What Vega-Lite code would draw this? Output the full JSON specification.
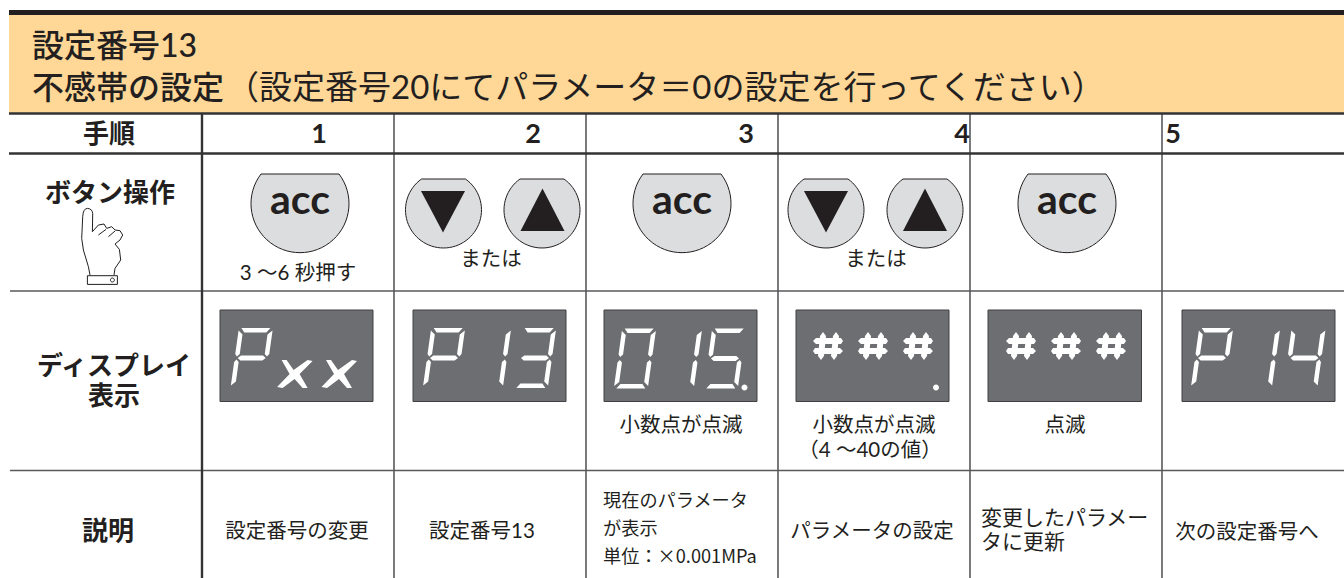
{
"$schema":"https://vega.github.io/schema/vega-lite/v6.json",
"width":1344,"height":578,"padding":0,
"autosize":{"type":"none"},
"background":"#ffffff",
"config":{"view":{"stroke":null},"text":{"font":"Lato, Noto Sans CJK JP"}},
"datasets":{
"fills":[{"part":"bar","x":9,"x2":1344,"y":10,"y2":15},{"part":"band","x":9,"x2":1344,"y":15,"y2":113}],
"screens":[{"x":220,"x2":373,"y":310,"y2":401.5},{"x":413,"x2":566,"y":310,"y2":401.5},{"x":604,"x2":757,"y":310,"y2":401.5},{"x":796,"x2":949,"y":310,"y2":401.5},{"x":988,"x2":1141.5,"y":310,"y2":401.5},{"x":1182,"x2":1335,"y":310,"y2":401.5}],
"thin":[{"x":394,"x2":394,"y":113,"y2":578},{"x":586,"x2":586,"y":113,"y2":578},{"x":778,"x2":778,"y":113,"y2":578},{"x":970,"x2":970,"y":113,"y2":578},{"x":1162,"x2":1162,"y":113,"y2":578},{"x":10,"x2":1344,"y":291,"y2":291},{"x":10,"x2":1344,"y":470.5,"y2":470.5}],
"thick":[{"x":9,"x2":1344,"y":113.5,"y2":113.5},{"x":9,"x2":1344,"y":153.5,"y2":153.5},{"x":202,"x2":202,"y":113,"y2":578}],
"keys":[{"k":"acc","x":300,"y":204.5},{"k":"acc","x":682,"y":204.5},{"k":"acc","x":1067,"y":204.5},{"k":"arrow","x":443.5,"y":210.5},{"k":"arrow","x":542,"y":210.5},{"k":"arrow","x":826,"y":210.5},{"k":"arrow","x":925,"y":210.5}],
"tri":[{"k":"down","x":443,"y":211.5},{"k":"up","x":542.5,"y":210},{"k":"down","x":826,"y":211.5},{"k":"up","x":925,"y":210}],
"hand":[{"k":"hand","x":101.7,"y":246.7}],
"seg":[{"k":"P","x":251.7,"y":358},{"k":"X","x":294.6,"y":374},{"k":"X","x":339,"y":374},
{"k":"P","x":444,"y":358},{"k":"1","x":490,"y":358},{"k":"3","x":535,"y":358},
{"k":"0","x":635,"y":358.5},{"k":"1","x":681,"y":358.5},{"k":"5","x":725,"y":358.5},{"k":"dot","x":744.5,"y":387.5},
{"k":"H","x":828,"y":346},{"k":"H","x":873,"y":346},{"k":"H","x":918,"y":346},{"k":"dot","x":936,"y":387.5},
{"k":"H","x":1021,"y":346},{"k":"H","x":1066,"y":346},{"k":"H","x":1111,"y":346},
{"k":"P","x":1212,"y":358},{"k":"1","x":1259,"y":358},{"k":"4","x":1304.5,"y":358}],
"acc":[{"t":"acc","x":300,"y":202},{"t":"acc","x":682,"y":202},{"t":"acc","x":1067,"y":202}],
"title":[{"t":"設定番号13","x":32,"y":46.5},{"t":"不感帯の設定","x":32,"y":88.5}],
"titlereg":[{"t":"（設定番号20にてパラメータ＝0の設定を行ってください）","x":226,"y":88.5}],
"heads":[{"t":"手順","x":109,"y":135},{"t":"ボタン操作","x":110,"y":194},{"t":"ディスプレイ","x":114,"y":367},{"t":"表示","x":114,"y":397},{"t":"説明","x":108,"y":532}],
"nums":[{"t":"1","x":319,"y":135},{"t":"2","x":533,"y":135},{"t":"3","x":746,"y":135},{"t":"4","x":962,"y":135},{"t":"5","x":1173,"y":135}],
"mid":[{"t":"3 〜6 秒押す","x":298,"y":273.5},{"t":"または","x":491,"y":259.5},{"t":"または","x":876,"y":259.5},{"t":"小数点が点滅","x":681,"y":425.5},{"t":"小数点が点滅","x":874,"y":425.5},{"t":"（4 〜40の値）","x":870,"y":450.5},{"t":"点滅","x":1065,"y":425.5},{"t":"設定番号の変更","x":297,"y":531.5},{"t":"設定番号13","x":482,"y":531.5},{"t":"パラメータの設定","x":872,"y":531.5},{"t":"次の設定番号へ","x":1247,"y":532.5}],
"left21":[{"t":"変更したパラメー","x":981,"y":518.5},{"t":"タに更新","x":981,"y":542.5}],
"left18":[{"t":"現在のパラメータ","x":603,"y":501.5},{"t":"が表示","x":603,"y":529.5},{"t":"単位：×0.001MPa","x":603,"y":557.5}]
},
"encoding":{
"x":{"field":"x","type":"quantitative","axis":null,"scale":{"domain":[0,1344],"nice":false,"zero":false}},
"y":{"field":"y","type":"quantitative","axis":null,"scale":{"domain":[578,0],"nice":false,"zero":false}}
},
"resolve":{"scale":{"shape":"independent"}},
"layer":[
{"data":{"name":"fills"},"mark":{"type":"rect"},"encoding":{"x2":{"field":"x2"},"y2":{"field":"y2"},"color":{"field":"part","type":"nominal","legend":null,"scale":{"domain":["bar","band"],"range":["#231F20","#FFD796"]}}}},
{"data":{"name":"thin"},"mark":{"type":"rule","color":"#58595B","strokeWidth":1.6},"encoding":{"x2":{"field":"x2"},"y2":{"field":"y2"}}},
{"data":{"name":"thick"},"mark":{"type":"rule","color":"#333335","strokeWidth":2.4},"encoding":{"x2":{"field":"x2"},"y2":{"field":"y2"}}},
{"data":{"name":"screens"},"mark":{"type":"rect","fill":"#6D6E72","stroke":"#414042","strokeWidth":1},"encoding":{"x2":{"field":"x2"},"y2":{"field":"y2"}}},
{"data":{"name":"keys"},"mark":{"type":"point","filled":true,"size":4,"opacity":1,"fill":"#DCDDDE","stroke":"#231F20","strokeWidth":1},"encoding":{"shape":{"field":"k","type":"nominal","legend":null,"scale":{"domain":["acc","arrow"],"range":["M-39 -30.5L39 -30.5A49 49 0 1 1 -39 -30.5Z","M-22 -31.5L22 -31.5A38 38 0 1 1 -22 -31.5Z"]}}}},
{"data":{"name":"tri"},"mark":{"type":"point","filled":true,"size":4,"opacity":1,"fill":"#231F20"},"encoding":{"shape":{"field":"k","type":"nominal","legend":null,"scale":{"domain":["down","up"],"range":["M-22 -20.5L22 -20.5L0 21Z","M0 -21.5L22 21L-22 21Z"]}}}},
{"data":{"name":"hand"},"mark":{"type":"point","filled":false,"size":4,"opacity":1,"stroke":"#231F20","strokeWidth":1},"encoding":{"shape":{"field":"k","type":"nominal","legend":null,"scale":{"domain":["hand"],"range":["M-11.7 28.3L-13.3 20L-18.3 3.3L-20 -8.3L-19 -30Q-18.5 -38.3 -14.3 -38.3Q-9.5 -38 -9 -33.3L-9.3 -15L-3.3 -21.7L2.3 -22.7L5 -18.3L10 -20L13.3 -16.7L18.3 -16L21 -11.7L18.3 -6.7L13.3 -2.7L17.7 2.7L19 13.3L13.3 21.7L12.3 28.3M-3.3 -11.7L4.3 -17.3M6.7 -10L13.3 -15.7M-14.3 29L15.7 29L15.7 37.7L-14.3 37.7ZM12.7 33.3A2 2 0 1 1 8.7 33.3A2 2 0 1 1 12.7 33.3Z"]}}}},
{"data":{"name":"seg"},"mark":{"type":"point","filled":true,"size":4,"opacity":1,"fill":"#FFFFFF"},"encoding":{"shape":{"field":"k","type":"nominal","legend":null,"scale":{"domain":["P","0","1","3","4","5","X","H","dot"],"range":[
"M-10.3 -30L18.7 -30L14.6 -25.5L-7.4 -25.5ZM20.85 -27.5L17.56 -4L15.21 -1.5L13.06 -4L15.79 -23.5ZM-13.15 -27.5L-9.21 -23.5L-11.94 -4L-14.79 -1.5L-16.44 -4ZM-14 0L-10.65 -2.5L11.35 -2.5L14 0L10.65 2.5L-11.35 2.5ZM-17.56 4L-15.21 1.5L-13.06 4L-15.79 23.5L-20.85 27.5Z",
"M-10.3 -30L18.7 -30L14.6 -25.5L-7.4 -25.5ZM20.85 -27.5L17.56 -4L15.21 -1.5L13.06 -4L15.79 -23.5ZM16.44 4L14.79 1.5L11.94 4L9.21 23.5L13.15 27.5ZM-14.57 25.5L7.43 25.5L10.3 30L-18.7 30ZM-17.56 4L-15.21 1.5L-13.06 4L-15.79 23.5L-20.85 27.5ZM-13.15 -27.5L-9.21 -23.5L-11.94 -4L-14.79 -1.5L-16.44 -4Z",
"M20.85 -27.5L17.56 -4L15.21 -1.5L13.06 -4L15.79 -23.5ZM16.44 4L14.79 1.5L11.94 4L9.21 23.5L13.15 27.5Z",
"M-10.3 -30L18.7 -30L14.6 -25.5L-7.4 -25.5ZM20.85 -27.5L17.56 -4L15.21 -1.5L13.06 -4L15.79 -23.5ZM-14 0L-10.65 -2.5L11.35 -2.5L14 0L10.65 2.5L-11.35 2.5ZM16.44 4L14.79 1.5L11.94 4L9.21 23.5L13.15 27.5ZM-14.57 25.5L7.43 25.5L10.3 30L-18.7 30Z",
"M-13.15 -27.5L-9.21 -23.5L-11.94 -4L-14.79 -1.5L-16.44 -4ZM-14 0L-10.65 -2.5L11.35 -2.5L14 0L10.65 2.5L-11.35 2.5ZM20.85 -27.5L17.56 -4L15.21 -1.5L13.06 -4L15.79 -23.5ZM16.44 4L14.79 1.5L11.94 4L9.21 23.5L13.15 27.5Z",
"M-10.3 -30L18.7 -30L14.6 -25.5L-7.4 -25.5ZM-13.15 -27.5L-9.21 -23.5L-11.94 -4L-14.79 -1.5L-16.44 -4ZM-14 0L-10.65 -2.5L11.35 -2.5L14 0L10.65 2.5L-11.35 2.5ZM16.44 4L14.79 1.5L11.94 4L9.21 23.5L13.15 27.5ZM-14.57 25.5L7.43 25.5L10.3 30L-18.7 30Z",
"M-1 -4L13 -14L18 -13L5 0L13 14L8 14L0 5L-12 14L-17.5 13L-5 0L-13 -14L-8 -14Z",
"M-15 -5L-12 -8L13 -8L15 -5L13 -2L-12 -2ZM-15 5L-13 2L12 2L15 5L12 8L-13 8ZM-5 -14L-2 -10L-4 10L-7 14L-10 10L-8 -10ZM8 -14L11 -10L9 10L6 14L3 10L5 -10Z",
"M3 0A3 3 0 1 1 -3 0A3 3 0 1 1 3 0Z"]}}}},
{"data":{"name":"acc"},"mark":{"type":"text","font":"Lato","fontSize":41,"fontWeight":"bold","fill":"#231F20","baseline":"middle","align":"center"},"encoding":{"text":{"field":"t"}}},
{"data":{"name":"title"},"mark":{"type":"text","fontSize":32,"fontWeight":500,"fill":"#231F20","baseline":"middle","align":"left"},"encoding":{"text":{"field":"t"}}},
{"data":{"name":"titlereg"},"mark":{"type":"text","fontSize":33,"fontWeight":400,"fill":"#231F20","baseline":"middle","align":"left"},"encoding":{"text":{"field":"t"}}},
{"data":{"name":"heads"},"mark":{"type":"text","fontSize":26,"fontWeight":"bold","fill":"#231F20","baseline":"middle","align":"center"},"encoding":{"text":{"field":"t"}}},
{"data":{"name":"nums"},"mark":{"type":"text","fontSize":27,"fontWeight":"bold","fill":"#231F20","baseline":"middle","align":"center"},"encoding":{"text":{"field":"t"}}},
{"data":{"name":"mid"},"mark":{"type":"text","fontSize":20.5,"fontWeight":400,"fill":"#231F20","baseline":"middle","align":"center"},"encoding":{"text":{"field":"t"}}},
{"data":{"name":"left21"},"mark":{"type":"text","fontSize":21,"fontWeight":400,"fill":"#231F20","baseline":"middle","align":"left"},"encoding":{"text":{"field":"t"}}},
{"data":{"name":"left18"},"mark":{"type":"text","font":"Noto Sans CJK JP","fontSize":18.2,"fontWeight":400,"fill":"#231F20","baseline":"middle","align":"left"},"encoding":{"text":{"field":"t"}}}
]
}
